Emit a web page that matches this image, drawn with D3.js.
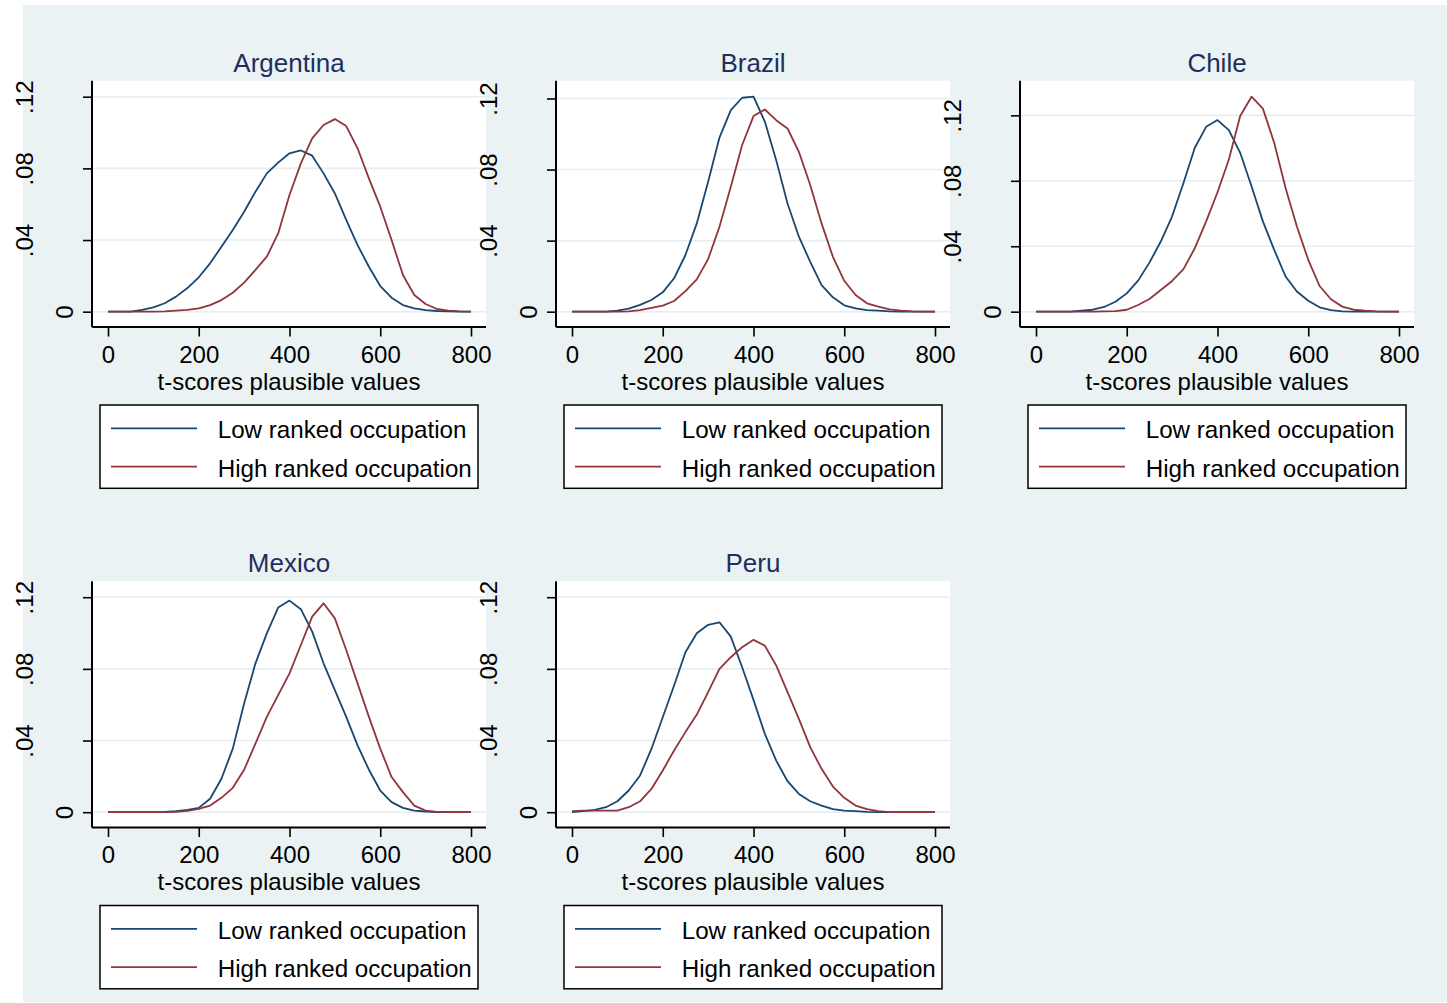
<!DOCTYPE html>
<html>
<head>
<meta charset="utf-8">
<script src="https://cdn.jsdelivr.net/npm/d3@7"></script>
<style>
  html, body { margin: 0; padding: 0; background: #ffffff; }
  svg { display: block; }
  text { font-family: "Liberation Sans", Arial, sans-serif; }
</style>
</head>
<body>
<svg id="chart" width="1447" height="1003"></svg>
<script>
// ---------- data ----------
const scores = [0,25,50,75,100,125,150,175,200,225,250,275,300,325,350,375,400,425,450,475,500,525,550,575,600,625,650,675,700,725,750,775,800];
const categories = ["Argentina","Brazil","Chile","Mexico","Peru"];
const seriesNames = ["Low ranked occupation","High ranked occupation"];
const xTicks = [0,200,400,600,800];
const xTickLabels = ["0","200","400","600","800"];
const yTicks = [0,0.04,0.08,0.12];
const yTickLabels = ["0",".04",".08",".12"];
const xTitle = "t-scores plausible values";

const argentinaLow  = [0,0,0,0.001,0.0024,0.0047,0.0084,0.0132,0.0192,0.027,0.0363,0.0456,0.0558,0.067,0.0772,0.0832,0.0884,0.090,0.0871,0.0772,0.066,0.0512,0.0372,0.0251,0.0143,0.0078,0.0037,0.0019,0.0009,0.0004,0.0002,0,0];
const argentinaHigh = [0,0,0,0,0,0.0002,0.0006,0.001,0.0019,0.0037,0.0065,0.0106,0.0162,0.0233,0.0307,0.0437,0.0651,0.0828,0.0967,0.1042,0.1075,0.1036,0.0912,0.0744,0.0586,0.04,0.0205,0.0093,0.0043,0.0015,0.0006,0.0002,0];
const brazilLow     = [0,0,0,0,0.0006,0.0017,0.0038,0.0066,0.0109,0.0188,0.0319,0.0497,0.0731,0.098,0.1134,0.1204,0.121,0.107,0.0853,0.0609,0.0422,0.0281,0.015,0.0081,0.0036,0.0019,0.0009,0.0006,0.0002,0,0,0,0];
const brazilHigh    = [0,0,0,0,0,0.0002,0.0009,0.0022,0.0034,0.006,0.0116,0.0182,0.0296,0.0478,0.0703,0.0938,0.1101,0.1138,0.1078,0.1031,0.09,0.0713,0.0497,0.0309,0.0174,0.0094,0.0047,0.0028,0.0013,0.0006,0.0002,0,0];
const chileLow      = [0,0,0,0,0.0006,0.0012,0.0029,0.0061,0.0112,0.019,0.03,0.0429,0.0583,0.0787,0.1002,0.113,0.1171,0.111,0.0971,0.0767,0.0552,0.0378,0.0215,0.0123,0.0067,0.0027,0.001,0.0002,0,0,0,0,0];
const chileHigh     = [0,0,0,0,0,0,0.0002,0.0004,0.0012,0.0041,0.0078,0.0133,0.0188,0.026,0.0388,0.0552,0.073,0.093,0.1196,0.1314,0.1241,0.1032,0.0756,0.0521,0.0317,0.0157,0.0076,0.0031,0.0012,0.0006,0.0002,0,0];
const mexicoLow     = [0,0,0,0,0,0.0002,0.0006,0.0013,0.0024,0.0075,0.0187,0.0355,0.0607,0.0831,0.0998,0.1142,0.1181,0.1133,0.1008,0.0831,0.0681,0.0532,0.0373,0.0237,0.0121,0.0056,0.0024,0.0009,0.0004,0,0,0,0];
const mexicoHigh    = [0,0,0,0,0,0,0.0002,0.0007,0.0019,0.0037,0.008,0.0136,0.0237,0.0383,0.0532,0.0653,0.0775,0.0933,0.1092,0.1166,0.1082,0.0905,0.0719,0.0532,0.0355,0.0196,0.0112,0.0037,0.0009,0.0002,0,0,0];
const peruLow       = [0,0.0006,0.0013,0.0028,0.0061,0.0121,0.0205,0.0353,0.053,0.0707,0.0893,0.0999,0.1046,0.106,0.098,0.0809,0.0627,0.0437,0.0288,0.0173,0.0102,0.0061,0.0037,0.0017,0.0009,0.0006,0.0002,0,0,0,0,0,0];
const peruHigh      = [0.0006,0.0009,0.0009,0.0009,0.0009,0.0028,0.0061,0.013,0.0233,0.0344,0.0447,0.0545,0.067,0.08,0.0865,0.0921,0.0962,0.093,0.0819,0.067,0.0521,0.0363,0.0242,0.0143,0.008,0.0037,0.0017,0.0006,0,0,0,0,0];

const lowSeries  = [argentinaLow, brazilLow, chileLow, mexicoLow, peruLow];
const highSeries = [argentinaHigh, brazilHigh, chileHigh, mexicoHigh, peruHigh];

// ---------- styles ----------
const colors = ["#1a476f", "#90353b"];
const bgColor = "#eaf2f3";
const gridColor = "#e6eef1";
const titleColor = "#1e2f5e";

const svg = d3.select("#chart");

svg.append("rect").attr("x", 23).attr("y", 5).attr("width", 1424).attr("height", 997).attr("fill", bgColor);

categories.forEach((name, i) => {
  const col = i % 3, row = Math.floor(i / 3);
  const ox = col * 464, oy = row * 500.5;
  const axisX = 92 + ox, plotRight = 486 + ox, plotTop = 80.7 + oy, axisY = 327 + oy;
  const series = [lowSeries[i], highSeries[i]];
  const dataMax = d3.max(series, s => d3.max(s));
  const yMax = Math.max(0.12, dataMax);

  const x = d3.scaleLinear().domain([0, 800]).range([108 + ox, 471 + ox]);
  const y = d3.scaleLinear().domain([0, yMax]).range([311.7 + oy, 96.7 + oy]);

  const g = svg.append("g");

  // plot region
  g.append("rect").attr("x", axisX).attr("y", plotTop)
    .attr("width", plotRight - axisX).attr("height", axisY - plotTop).attr("fill", "#ffffff");

  // grid
  g.selectAll(".grid").data(yTicks).enter().append("line")
    .attr("x1", axisX).attr("x2", plotRight)
    .attr("y1", d => y(d)).attr("y2", d => y(d))
    .attr("stroke", gridColor).attr("stroke-width", 1.6);

  // lines
  const line = d3.line().x((d, j) => x(scores[j])).y(d => y(d));
  series.forEach((s, k) => {
    g.append("path").datum(s).attr("d", line)
      .attr("fill", "none").attr("stroke", colors[k]).attr("stroke-width", 1.8)
      .attr("stroke-linejoin", "round");
  });

  // x axis
  const xAxis = d3.axisBottom(x).tickValues(xTicks).tickFormat((d, j) => xTickLabels[j])
    .tickSizeInner(9.5).tickSizeOuter(0).tickPadding(12);
  const xg = g.append("g").attr("transform", `translate(0,${axisY})`).call(xAxis);
  xg.select(".domain").remove();
  xg.selectAll(".tick line").attr("stroke", "#000").attr("stroke-width", 1.6);
  xg.selectAll(".tick text").attr("font-size", 24).attr("fill", "#000")
    .attr("font-family", '"Liberation Sans", Arial, sans-serif')
    .attr("dy", null).attr("y", 35.5);
  g.append("line").attr("x1", axisX).attr("x2", plotRight).attr("y1", axisY).attr("y2", axisY)
    .attr("stroke", "#000").attr("stroke-width", 2);

  // y axis
  const yAxis = d3.axisLeft(y).tickValues(yTicks).tickFormat((d, j) => yTickLabels[j])
    .tickSizeInner(9).tickSizeOuter(0);
  const yg = g.append("g").attr("transform", `translate(${axisX},0)`).call(yAxis);
  yg.select(".domain").remove();
  yg.selectAll(".tick line").attr("stroke", "#000").attr("stroke-width", 1.6);
  yg.selectAll(".tick text")
    .attr("font-size", 24).attr("fill", "#000")
    .attr("font-family", '"Liberation Sans", Arial, sans-serif')
    .attr("text-anchor", "middle").attr("dy", null).attr("x", null)
    .each(function() {
      const w = this.getComputedTextLength();
      const bx = 8 - 2 * w;
      d3.select(this).attr("transform", `translate(${bx},0) rotate(-90)`);
    });
  g.append("line").attr("x1", axisX).attr("x2", axisX).attr("y1", plotTop).attr("y2", axisY)
    .attr("stroke", "#000").attr("stroke-width", 2);

  // title
  g.append("text").attr("x", (axisX + plotRight) / 2).attr("y", 71.7 + oy)
    .attr("text-anchor", "middle").attr("font-size", 26).attr("fill", titleColor).text(name);

  // x title
  g.append("text").attr("x", (axisX + plotRight) / 2).attr("y", 389.5 + oy)
    .attr("text-anchor", "middle").attr("font-size", 24).attr("fill", "#000").text(xTitle);

  // legend
  const lg = g.append("g").attr("transform", `translate(${ox},${oy})`);
  lg.append("rect").attr("x", 100).attr("y", 405).attr("width", 378).attr("height", 83.3)
    .attr("fill", "#ffffff").attr("stroke", "#000").attr("stroke-width", 1.5);
  seriesNames.forEach((sn, k) => {
    const ly = 428.3 + k * 38.4;
    lg.append("line").attr("x1", 111).attr("x2", 197).attr("y1", ly).attr("y2", ly)
      .attr("stroke", colors[k]).attr("stroke-width", 1.8);
    lg.append("text").attr("x", 217.7).attr("y", ly + 10).attr("font-size", 24.2)
      .attr("fill", "#000").text(sn);
  });
});
</script>
</body>
</html>
